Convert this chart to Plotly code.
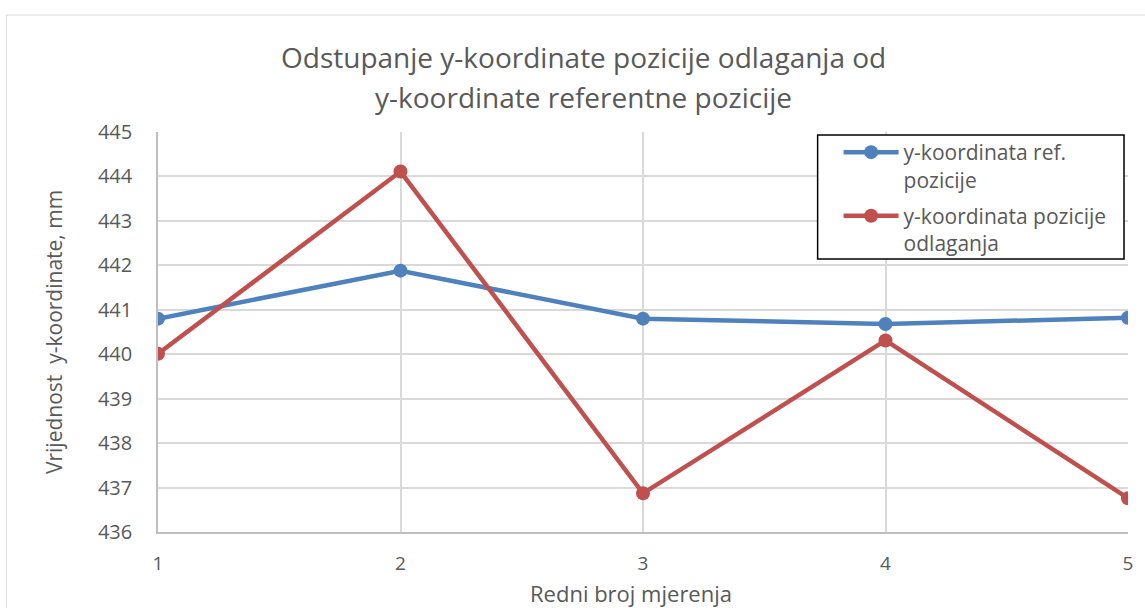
import plotly.graph_objects as go

# Measurement index (x) and the two y-coordinate series, in mm
mjerenja = [1, 2, 3, 4, 5]
y_ref = [440.80, 441.88, 440.80, 440.68, 440.82]
y_odlaganje = [440.01, 444.11, 436.87, 440.31, 436.76]

naslov_1 = "Odstupanje y-koordinate pozicije odlaganja od"
naslov_2 = "y-koordinate referentne pozicije"
naziv_ref = "y-koordinata ref.<br>pozicije"
naziv_odl = "y-koordinata pozicije<br>odlaganja"
os_x = "Redni broj mjerenja"
os_y = "Vrijednost  y-koordinate, mm"

FONT = "Open Sans"
TXT = "#595959"
BLUE = "#4F81BD"
RED = "#C0504D"

W, H = 1145, 608
L, R, T, B = 158, 15, 132, 76
pw, ph = W - L - R, H - T - B


def px(xp):
    return (xp - L) / pw


def py(yp):
    return (H - B - yp) / ph


fig = go.Figure()
fig.add_trace(go.Scatter(
    x=mjerenja, y=y_ref, name=naziv_ref, mode="lines+markers", legendgroup="ref",
    line=dict(color=BLUE, width=4.5), marker=dict(color=BLUE, size=14),
))
fig.add_trace(go.Scatter(
    x=mjerenja, y=y_odlaganje, name=naziv_odl, mode="lines+markers", legendgroup="odl",
    line=dict(color=RED, width=4.5), marker=dict(color=RED, size=14),
))

axis_common = dict(
    showgrid=True, gridcolor="#d9d9d9", gridwidth=1.5,
    showline=True, linecolor="#bfbfbf", linewidth=1.5,
    zeroline=False, ticks="",
)

fig.update_xaxes(range=[1, 5], tickvals=mjerenja, ticklabelstandoff=13,
                 tickfont=dict(family=FONT, size=19, color=TXT), **axis_common)
fig.update_yaxes(
    range=[436, 445], dtick=1, ticklabelstandoff=20,
    tickfont=dict(family=FONT, size=20, color=TXT),
    title=dict(text=os_y, font=dict(family=FONT, size=21, color=TXT), standoff=30),
    **axis_common,
)

# Outer chart frame and the legend box
fig.add_shape(type="rect", xref="paper", yref="paper",
              x0=px(6), x1=px(1150), y0=py(615), y1=py(15),
              line=dict(color="#d9d9d9", width=1), layer="below")
fig.add_shape(type="rect", xref="paper", yref="paper",
              x0=px(819), x1=px(1126), y0=py(259), y1=py(135),
              line=dict(color="black", width=1.5), fillcolor="white", layer="above")

# Two-line chart title
for txt, yc in ((naslov_1, 57), (naslov_2, 97)):
    fig.add_annotation(text=txt, xref="paper", yref="paper",
                       x=px(584), y=py(yc), xanchor="center", yanchor="middle",
                       showarrow=False, font=dict(family=FONT, size=28, color=TXT))

# X-axis title, centred on the chart area
fig.add_annotation(text=os_x, xref="paper", yref="paper",
                   x=px(632), y=py(593), xanchor="center", yanchor="middle",
                   showarrow=False, font=dict(family=FONT, size=22, color=TXT))

fig.update_layout(
    width=W, height=H, margin=dict(l=L, r=R, t=T, b=B),
    paper_bgcolor="white", plot_bgcolor="white",
    legend=dict(x=px(840), y=py(132), xanchor="left", yanchor="top",
                bgcolor="rgba(0,0,0,0)", borderwidth=0, valign="top",
                tracegroupgap=6,
                font=dict(family=FONT, size=21, color=TXT), itemwidth=55),
    showlegend=True,
)

fig.write_html("out.html")
